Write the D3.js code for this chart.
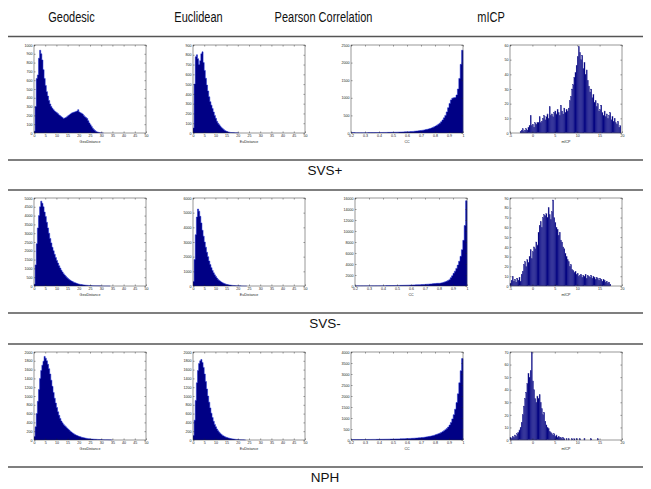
<!DOCTYPE html>
<html><head><meta charset="utf-8">
<script src="https://cdn.jsdelivr.net/npm/d3@7"></script>
<style>body{margin:0;background:#fff}svg{display:block}</style>
</head><body>
<script>
// ---------- texts ----------
const columnTitles = ["Geodesic", "Euclidean", "Pearson Correlation", "mICP"];
const groupLabels = ["SVS+", "SVS-", "NPH"];
const xAxisTitles = ["GeoDistance", "EuDistance", "CC", "mICP"];

// ---------- tick labels ----------
const xTicksGeo = [0, 5, 10, 15, 20, 25, 30, 35, 40, 45, 50];
const xTicksEuc = [0, 5, 10, 15, 20, 25, 30, 35, 40, 45, 50];
const xTicksCC = [0.2, 0.3, 0.4, 0.5, 0.6, 0.7, 0.8, 0.9, 1];
const xTicksMICP = [-5, 0, 5, 10, 15, 20];

const yTicksGeoSVSp = [0, 100, 200, 300, 400, 500, 600, 700, 800, 900, 1000];
const yTicksEucSVSp = [0, 100, 200, 300, 400, 500, 600, 700, 800, 900];
const yTicksCCSVSp = [0, 500, 1000, 1500, 2000, 2500];
const yTicksMICPSVSp = [0, 10, 20, 30, 40, 50, 60];
const yTicksGeoSVSm = [0, 500, 1000, 1500, 2000, 2500, 3000, 3500, 4000, 4500, 5000];
const yTicksEucSVSm = [0, 1000, 2000, 3000, 4000, 5000, 6000];
const yTicksCCSVSm = [0, 2000, 4000, 6000, 8000, 10000, 12000, 14000, 16000];
const yTicksMICPSVSm = [0, 10, 20, 30, 40, 50, 60, 70, 80, 90];
const yTicksGeoNPH = [0, 200, 400, 600, 800, 1000, 1200, 1400, 1600, 1800, 2000];
const yTicksEucNPH = [0, 200, 400, 600, 800, 1000, 1200, 1400, 1600, 1800, 2000];
const yTicksCCNPH = [0, 500, 1000, 1500, 2000, 2500, 3000, 3500, 4000];
const yTicksMICPNPH = [0, 10, 20, 30, 40, 50, 60, 70];

// ---------- histogram bins (first bin start, bin width) ----------
const binsGeoSVSp = [0, 0.5];
const binsEucSVSp = [0, 0.5];
const binsCCSVSp = [0.2, 0.01];
const binsMICPSVSp = [-2.75, 0.25];
const binsGeoSVSm = [0, 0.5];
const binsEucSVSm = [0, 0.5];
const binsCCSVSm = [0.2, 0.01];
const binsMICPSVSm = [-5, 0.25];
const binsGeoNPH = [0, 0.5];
const binsEucNPH = [0, 0.5];
const binsCCNPH = [0.2, 0.01];
const binsMICPNPH = [-5, 0.25];

// ---------- histogram counts ----------
const countsGeoSVSp = [20,300,620,660,850,940,900,830,720,620,540,470,420,370,330,300,280,265,250,240,
  230,220,205,195,185,175,165,170,175,185,195,205,215,225,230,235,240,245,250,265,
  240,230,225,215,200,185,175,165,140,115,95,75,55,40,28,18,12,8,5,3,2,1];
const countsEucSVSp = [50,500,780,800,760,700,740,810,830,720,640,560,490,430,370,320,285,250,215,180,
  150,120,100,85,70,55,45,35,25,20,15,11,8,6,5,4,4,3,3,2,1];
const countsCCSVSp = [15,12,12,10,10,10,10,10,10,10, 10,10,12,12,12,12,12,14,14,14,
  15,15,15,16,16,17,18,18,19,20, 21,22,23,24,25,27,28,30,32,34,
  36,38,40,43,46,50,54,58,63,68, 74,80,88,96,105,115,128,142,158,176,
  196,220,248,280,320,370,430,500,600,720, 840,940,990,1000,1010,1080,1250,1550,1950,2350];
const countsMICPSVSp = [1,2,3,1,2,3,2,4,5,12,5,6,4,7,6,7,7,11,7,8,10,12,9,11,13,10,18,12,13,11,
  14,15,13,16,14,12,19,15,13,17,14,16,15,17,22,25,30,33,38,41,46,52,59,55,50,53,44,48,40,43,
  36,32,28,30,24,26,21,22,18,20,15,16,19,14,12,15,11,13,10,12,14,9,11,8,10,7,6,8,4,5];

const countsGeoSVSm = [100,1200,2400,3300,4000,4500,4820,4700,4500,4200,3950,3620,3300,3000,2700,2450,2200,2000,1800,1620,
  1450,1300,1150,1020,900,800,700,620,550,480,420,370,320,285,250,220,190,165,140,120,
  100,90,80,70,60,52,45,40,35,30,26,23,20,17,15,13,12,10,9,8,7,6,5,4,4,3,2,1];
const countsEucSVSm = [300,1800,3500,4700,5250,5100,4750,4300,3800,3400,3000,2650,2300,2000,1700,1460,1250,1060,900,760,
  650,540,450,380,320,265,220,180,150,120,100,85,70,60,50,42,35,30,25,20,15,12,10,8,6,4,3,2];
const countsCCSVSm = [25,28,30,30,32,32,34,35,36,38, 40,42,44,46,48,50,52,55,58,60,
  63,66,70,74,78,82,86,90,95,100, 105,110,116,122,128,135,142,150,158,166,
  175,185,195,205,216,228,240,254,268,283, 300,318,337,358,380,405,432,460,480,490,
  490,540,600,670,760,860,980,1150,1500,1850, 2300,2700,3200,3800,4500,5400,6600,8300,11000,15500];
const countsMICPSVSm = [3,6,10,5,7,4,8,6,9,5,12,15,22,25,20,27,24,30,37,28,35,40,38,45,42,55,62,66,60,70,
  73,72,74,70,80,73,68,76,88,70,65,60,58,52,55,47,45,40,38,33,30,27,25,20,22,17,16,14,15,12,
  13,10,11,12,9,11,10,12,8,11,10,9,11,8,10,9,7,9,8,6,8,7,5,7,6,4,5,3,4,2];

const countsGeoNPH = [80,300,600,880,1150,1400,1580,1700,1790,1900,1860,1800,1720,1620,1500,1360,1220,1080,950,840,
  740,640,560,490,430,390,355,325,300,275,250,225,200,180,160,142,125,112,100,90,
  80,72,64,57,50,45,40,35,31,28,25,22,20,18,16,15,14,12,11,10,10,8,7,6,6,5,4,3,3,2];
const countsEucNPH = [100,450,900,1300,1580,1740,1800,1830,1760,1650,1500,1330,1160,1000,860,730,610,510,425,355,
  300,250,210,178,150,125,105,90,75,64,55,47,40,34,28,24,20,17,14,12,10,8,6,5,4,3,2];
const countsCCNPH = [20,20,20,20,21,21,22,22,23,23, 24,24,25,25,26,27,28,28,29,30,
  31,32,33,34,35,36,37,39,40,42, 43,45,47,49,51,53,55,58,60,63,
  66,69,72,75,79,83,87,92,97,103, 110,117,125,134,144,155,168,182,198,216,
  236,258,283,311,343,380,422,470,525,590, 680,800,960,1150,1400,1700,2100,2600,3150,3700];
const countsMICPNPH = [2,1,3,2,4,3,5,6,8,10,14,20,27,33,38,45,53,50,55,70,47,40,33,30,35,33,36,30,25,20,
  22,15,12,10,9,7,6,5,4,5,3,4,2,3,2,2,1,2,1,0,1,0,1,0,0,1,0,1,0,1,
  0,0,1,0,0,0,1,0,0,0,0,0,1,0,0,0,0,0,1];

// ---------- layout ----------
const W = 651, H = 489;
const colLeft = [34, 193, 351, 510];
const rowTop = [45, 198, 352];
const plotW = 112, plotH = 88;
const panelShift = [0, 0, 0, 0, 0, 0, 4, 0, 0, 0, 0, 0];
const headerX = [71.5, 198.5, 323.5, 491];
const sepY = [36.5, 160, 190, 313, 344, 467];
const labelBaseY = [174.5, 328, 482];
const FONT = "'Liberation Sans', Arial, Helvetica, sans-serif";

const xDomains = [[0, 50], [0, 50], [0.2, 1], [-5, 20]];
const xTicksByCol = [xTicksGeo, xTicksEuc, xTicksCC, xTicksMICP];
const panels = [
  [countsGeoSVSp, binsGeoSVSp, yTicksGeoSVSp], [countsEucSVSp, binsEucSVSp, yTicksEucSVSp],
  [countsCCSVSp, binsCCSVSp, yTicksCCSVSp], [countsMICPSVSp, binsMICPSVSp, yTicksMICPSVSp],
  [countsGeoSVSm, binsGeoSVSm, yTicksGeoSVSm], [countsEucSVSm, binsEucSVSm, yTicksEucSVSm],
  [countsCCSVSm, binsCCSVSm, yTicksCCSVSm], [countsMICPSVSm, binsMICPSVSm, yTicksMICPSVSm],
  [countsGeoNPH, binsGeoNPH, yTicksGeoNPH], [countsEucNPH, binsEucNPH, yTicksEucNPH],
  [countsCCNPH, binsCCNPH, yTicksCCNPH], [countsMICPNPH, binsMICPNPH, yTicksMICPNPH]
];

const svg = d3.select("body").append("svg").attr("width", W).attr("height", H)
  .style("font-family", FONT);
svg.append("rect").attr("width", W).attr("height", H).attr("fill", "#fff");

svg.selectAll("text.col").data(columnTitles).join("text").attr("class", "col")
  .attr("transform", (d, i) => `translate(${headerX[i]},22) scale(0.76,1)`)
  .attr("text-anchor", "middle")
  .attr("font-size", 14.5).attr("fill", "#111").text(d => d);

svg.selectAll("line.sep").data(sepY).join("line").attr("class", "sep")
  .attr("x1", 8).attr("x2", 643).attr("y1", d => d).attr("y2", d => d)
  .attr("stroke", "#555").attr("stroke-width", 1.6);

svg.selectAll("text.grp").data(groupLabels).join("text").attr("class", "grp")
  .attr("x", 325).attr("y", (d, i) => labelBaseY[i]).attr("text-anchor", "middle")
  .attr("font-size", 13.5).attr("fill", "#111").text(d => d);

panels.forEach((p, k) => {
  const [counts, bins, yTicks] = p;
  const row = Math.floor(k / 4), col = k % 4;
  const x0 = colLeft[col] + panelShift[k], y0 = rowTop[row];
  const x = d3.scaleLinear().domain(xDomains[col]).range([x0, x0 + plotW]);
  const y = d3.scaleLinear().domain([0, yTicks[yTicks.length - 1]]).range([y0 + plotH, y0]);
  const g = svg.append("g");
  g.append("rect").attr("x", x0).attr("y", y0).attr("width", plotW).attr("height", plotH)
    .attr("fill", "#fff");
  const [start, w] = bins;
  if (col === 3) {
    g.append("g").selectAll("rect").data(counts).join("rect")
      .attr("x", (d, i) => x(start + i * w))
      .attr("width", (d, i) => x(start + (i + 1) * w) - x(start + i * w))
      .attr("y", d => y(d)).attr("height", d => y(0) - y(d))
      .attr("fill", "#000080").attr("stroke", "#3a3a9a").attr("stroke-width", 0.25);
  } else {
    const pts = counts.map((c, i) => [start + i * w, c]).concat([[start + counts.length * w, 0]]);
    g.append("path").datum(pts)
      .attr("d", d3.area().curve(d3.curveStepAfter).x(d => x(d[0])).y0(y(0)).y1(d => y(d[1])))
      .attr("fill", "#000085");
    g.append("path").datum(pts)
      .attr("d", d3.line().curve(d3.curveStepAfter).x(d => x(d[0])).y(d => y(d[1])))
      .attr("fill", "none").attr("stroke", "#1a2ad0").attr("stroke-width", 0.5);
  }

  const fmt = d => String(d);
  const styleAxis = a => {
    a.select(".domain").remove();
    a.attr("font-size", 3.6).attr("font-family", FONT).attr("color", "#222");
    a.selectAll("line").attr("stroke-width", 0.4);
  };
  g.append("g").attr("transform", `translate(0,${y0 + plotH})`)
    .call(d3.axisBottom(x).tickValues(xTicksByCol[col]).tickSize(-1.6).tickPadding(1.6).tickFormat(fmt))
    .call(styleAxis);
  g.append("g").attr("transform", `translate(0,${y0})`)
    .call(d3.axisTop(x).tickValues(xTicksByCol[col]).tickSize(-1.6).tickFormat(""))
    .call(styleAxis);
  g.append("g").attr("transform", `translate(${x0},0)`)
    .call(d3.axisLeft(y).tickValues(yTicks).tickSize(-1.6).tickPadding(1.4).tickFormat(fmt))
    .call(styleAxis);
  g.append("g").attr("transform", `translate(${x0 + plotW},0)`)
    .call(d3.axisRight(y).tickValues(yTicks).tickSize(-1.6).tickFormat(""))
    .call(styleAxis);
  g.append("rect").attr("x", x0).attr("y", y0).attr("width", plotW).attr("height", plotH)
    .attr("fill", "none").attr("stroke", "#333").attr("stroke-width", 0.5);
  g.append("text").attr("x", x0 + plotW / 2).attr("y", y0 + plotH + 9.5)
    .attr("text-anchor", "middle").attr("font-size", 3.6).attr("fill", "#222")
    .text(xAxisTitles[col]);
});
</script>
</body></html>
